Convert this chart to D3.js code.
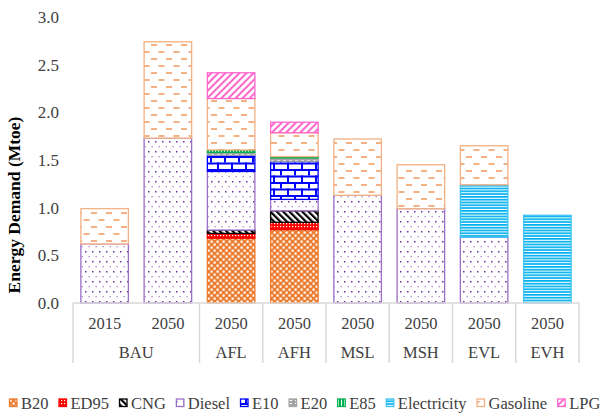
<!DOCTYPE html>
<html lang="en">
<head>
    <meta charset="UTF-8">
    <title>Energy Demand</title>
    <script src="https://cdn.jsdelivr.net/npm/d3@7"></script>
    <style>
        body { margin: 0; background: #fff; }
        text { font-family: "Liberation Serif", "Times New Roman", serif; }
    </style>
</head>
<body>
<div id="d3"></div>
<script>
    //数据部分
    var years = ["2015", "2050", "2050", "2050", "2050", "2050", "2050", "2050"];
    var scenarios = ["BAU", "BAU", "AFL", "AFH", "MSL", "MSH", "EVL", "EVH"];
    var fuels = ["B20", "ED95", "CNG", "Diesel", "E10", "E20", "E85", "Electricity", "Gasoline", "LPG"];

    var B20 =         [0,    0,    0.68,  0.77,  0,    0,    0,    0];
    var ED95 =        [0,    0,    0.05,  0.077, 0,    0,    0,    0];
    var CNG =         [0,    0,    0.035, 0.12,  0,    0,    0,    0];
    var Diesel =      [0.62, 1.73, 0.615, 0.12,  1.13, 0.99, 0.69, 0];
    var E10 =         [0,    0,    0.17,  0.40,  0,    0,    0,    0];
    var E20 =         [0,    0,    0.03,  0.035, 0,    0,    0,    0];
    var E85 =         [0,    0,    0.025, 0.014, 0,    0,    0,    0];
    var Electricity = [0,    0,    0,     0,     0,    0,    0.55, 0.92];
    var Gasoline =    [0.37, 1.01, 0.54,  0.25,  0.59, 0.46, 0.41, 0];
    var LPG =         [0,    0,    0.27,  0.11,  0,    0,    0,    0];
    var yTicks = [0, 0.5, 1.0, 1.5, 2.0, 2.5, 3.0];

    var series = {B20: B20, ED95: ED95, CNG: CNG, Diesel: Diesel, E10: E10,
        E20: E20, E85: E85, Electricity: Electricity, Gasoline: Gasoline, LPG: LPG};

    // 每一根柱子一行
    var rows = years.map(function (yr, i) {
        var r = {key: i};
        fuels.forEach(function (f) { r[f] = series[f][i]; });
        return r;
    });

    //颜色
    var color = {
        B20: "#ED7D31", ED95: "#FF0000", CNG: "#000000", Diesel: "#7030A0",
        E10: "#0000FF", E20: "#A5A5A5", E85: "#00B050", Electricity: "#00B0F0",
        Gasoline: "#F4B183", LPG: "#FF66CC"
    };
    var strokeColor = {
        B20: "#ED7D31", ED95: "#FF0000", CNG: "#000000", Diesel: "#9B6FC6",
        E10: "#0000FF", E20: "#A5A5A5", E85: "#00B050", Electricity: "#3FC3F3",
        Gasoline: "#F4B183", LPG: "#FF66CC"
    };

    //基础部分
    var width = 602, height = 414;
    var plotLeft = 73, plotRight = 579, plotTop = 17, plotBottom = 303;

    var x = d3.scaleBand()
        .domain(d3.range(years.length))
        .range([plotLeft, plotRight])
        .paddingInner(0.225)
        .paddingOuter(0.1125);

    var y = d3.scaleLinear()
        .domain([0, 3])
        .range([plotBottom, plotTop]);

    var svg = d3.select("#d3")
        .append("svg")
        .attr("width", width)
        .attr("height", height);

    // 填充图案
    var defs = svg.append("defs");

    function pattern(id, w, h, rotate) {
        var p = defs.append("pattern")
            .attr("id", id)
            .attr("patternUnits", "userSpaceOnUse")
            .attr("width", w)
            .attr("height", h);
        if (rotate) p.attr("patternTransform", "rotate(" + rotate + ")");
        p.append("rect").attr("width", w).attr("height", h).attr("fill", "#fff");
        return p;
    }

    // B20 小棋盘
    var pB20 = pattern("p-B20", 6, 6);
    pB20.append("rect").attr("width", 6).attr("height", 6).attr("fill", color.B20);
    pB20.append("rect").attr("x", 0.5).attr("y", 0.5).attr("width", 2.2).attr("height", 2.2).attr("fill", "#fff");
    pB20.append("rect").attr("x", 3.5).attr("y", 3.5).attr("width", 2.2).attr("height", 2.2).attr("fill", "#fff");

    // ED95 红色网格
    var pED = pattern("p-ED95", 3, 3);
    pED.append("rect").attr("width", 3).attr("height", 3).attr("fill", color.ED95);
    pED.append("rect").attr("x", 1).attr("y", 1).attr("width", 1.2).attr("height", 1.2).attr("fill", "#fff");

    // CNG 黑色斜线
    var pCNG = pattern("p-CNG", 4.5, 4.5, -45);
    pCNG.append("rect").attr("width", 2.2).attr("height", 4.5).attr("fill", color.CNG);

    // Diesel 点
    var pD = pattern("p-Diesel", 7, 10);
    pD.append("rect").attr("x", 1).attr("y", 1).attr("width", 1.5).attr("height", 1.5).attr("fill", color.Diesel);
    pD.append("rect").attr("x", 4.5).attr("y", 6).attr("width", 1.3).attr("height", 1.3).attr("fill", color.Diesel).attr("opacity", 0.6);

    // E10 砖块
    var pE10 = pattern("p-E10", 14, 13);
    pE10.append("rect").attr("x", 0).attr("y", 0).attr("width", 14).attr("height", 2).attr("fill", color.E10);
    pE10.append("rect").attr("x", 0).attr("y", 6.5).attr("width", 14).attr("height", 2).attr("fill", color.E10);
    pE10.append("rect").attr("x", 0).attr("y", 0).attr("width", 2).attr("height", 6.5).attr("fill", color.E10);
    pE10.append("rect").attr("x", 7).attr("y", 6.5).attr("width", 2).attr("height", 6.5).attr("fill", color.E10);

    // E20 灰色虚线
    var pE20 = pattern("p-E20", 6, 3);
    pE20.append("rect").attr("width", 6).attr("height", 3).attr("fill", color.E20);
    pE20.append("rect").attr("x", 1).attr("y", 1).attr("width", 3).attr("height", 1).attr("fill", "#fff");

    // E85 绿色竖线
    var pE85 = pattern("p-E85", 3, 3);
    pE85.append("rect").attr("width", 2).attr("height", 3).attr("fill", color.E85);

    // Electricity 横线
    var pEl = pattern("p-Electricity", 3, 2.8);
    pEl.append("rect").attr("width", 3).attr("height", 1.7).attr("fill", color.Electricity);

    // Gasoline 虚线
    var pG = pattern("p-Gasoline", 15, 14);
    pG.append("rect").attr("x", 1).attr("y", 2).attr("width", 6).attr("height", 2).attr("fill", color.Gasoline);
    pG.append("rect").attr("x", 8.5).attr("y", 9).attr("width", 6).attr("height", 2).attr("fill", color.Gasoline);

    // LPG 粉色斜线
    var pLPG = pattern("p-LPG", 5, 5, 45);
    pLPG.append("rect").attr("width", 2).attr("height", 5).attr("fill", color.LPG);

    //堆叠
    var stack = d3.stack().keys(fuels);
    var stacked = stack(rows);

    var bars = svg.append("g");

    bars.selectAll("g")
        .data(stacked)
        .enter()
        .append("g")
        .each(function (s) {
            d3.select(this).selectAll("rect")
                .data(s.filter(function (d) { return d[1] - d[0] > 0; }))
                .enter()
                .append("rect")
                .attr("x", function (d) { return x(d.data.key) + 0.75; })
                .attr("width", x.bandwidth() - 1.5)
                .attr("y", function (d) { return y(d[1]); })
                .attr("height", function (d) { return y(d[0]) - y(d[1]); })
                .attr("fill", "url(#p-" + s.key + ")")
                .attr("stroke", strokeColor[s.key])
                .attr("stroke-width", 1.3);
        });

    //Y轴
    var yAxis = d3.axisLeft(y)
        .tickValues(yTicks)
        .tickFormat(d3.format(".1f"))
        .tickSizeInner(0)
        .tickSizeOuter(0)
        .tickPadding(14);

    var gy = svg.append("g")
        .attr("transform", "translate(" + plotLeft + ",0)")
        .call(yAxis);
    gy.select(".domain").remove();
    gy.selectAll("text")
        .style("font-family", '"Liberation Serif", "Times New Roman", serif')
        .style("font-size", "17px")
        .attr("fill", "#404040");

    svg.append("text")
        .attr("transform", "translate(20," + ((plotTop + plotBottom) / 2 + 45) + ") rotate(-90)")
        .attr("text-anchor", "middle")
        .attr("font-size", "17.5px")
        .attr("font-weight", "bold")
        .attr("fill", "#000")
        .text("Energy Demand (Mtoe)");

    //X轴 (两级分类)
    var gx = svg.append("g");
    var halfGap = x.step() * x.paddingInner() / 2;
    var axisBottom = 363;

    gx.append("line")
        .attr("x1", plotLeft).attr("x2", plotRight)
        .attr("y1", plotBottom).attr("y2", plotBottom)
        .attr("stroke", "#D9D9D9").attr("stroke-width", 1.5);

    // 分组
    var groups = [];
    scenarios.forEach(function (s, i) {
        if (!groups.length || groups[groups.length - 1].name !== s) {
            groups.push({name: s, first: i, last: i});
        } else {
            groups[groups.length - 1].last = i;
        }
    });

    var seps = [plotLeft].concat(groups.map(function (g) {
        return x(g.last) + x.bandwidth() + halfGap;
    }));

    gx.selectAll("line.sep")
        .data(seps)
        .enter()
        .append("line")
        .attr("class", "sep")
        .attr("x1", function (d) { return d; })
        .attr("x2", function (d) { return d; })
        .attr("y1", plotBottom)
        .attr("y2", axisBottom)
        .attr("stroke", "#D9D9D9")
        .attr("stroke-width", 1.5);

    gx.selectAll("text.year")
        .data(years)
        .enter()
        .append("text")
        .attr("class", "year")
        .attr("x", function (d, i) { return x(i) + x.bandwidth() / 2; })
        .attr("y", 329)
        .attr("text-anchor", "middle")
        .attr("font-size", "16.5px")
        .attr("fill", "#404040")
        .text(function (d) { return d; });

    gx.selectAll("text.group")
        .data(groups)
        .enter()
        .append("text")
        .attr("class", "group")
        .attr("x", function (g) { return (x(g.first) + x(g.last) + x.bandwidth()) / 2; })
        .attr("y", 358)
        .attr("text-anchor", "middle")
        .attr("font-size", "16.5px")
        .attr("fill", "#404040")
        .text(function (g) { return g.name; });

    //图例
    var legend = svg.append("g");
    var lx = 9;
    fuels.forEach(function (f) {
        legend.append("rect")
            .attr("x", lx + 0.5)
            .attr("y", 399)
            .attr("width", 7.5)
            .attr("height", 7.5)
            .attr("fill", "url(#p-" + f + ")")
            .attr("stroke", strokeColor[f])
            .attr("stroke-width", 1.3);
        var t = legend.append("text")
            .attr("x", lx + 12)
            .attr("y", 409)
            .attr("font-size", "16.5px")
            .attr("fill", "#404040")
            .text(f);
        lx += 12 + t.node().getComputedTextLength() + 10;
    });
</script>
</body>
</html>
